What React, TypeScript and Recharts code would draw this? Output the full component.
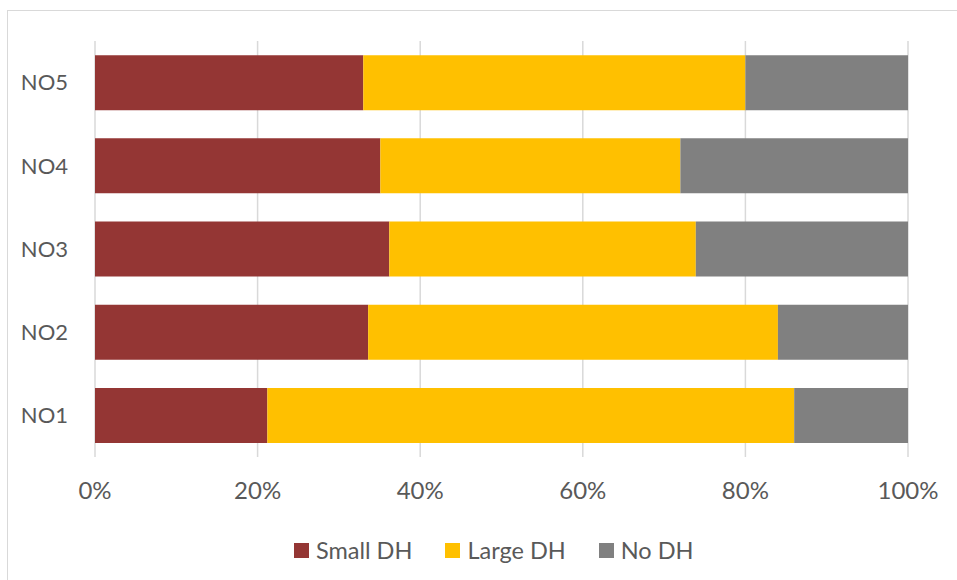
import React from "react";
import {
  BarChart,
  Bar,
  XAxis,
  YAxis,
  CartesianGrid,
  Legend,
} from "recharts";

// ---------------------------------------------------------------------------
// Data (percent of each region)
// ---------------------------------------------------------------------------

const regions = ["NO1", "NO2", "NO3", "NO4", "NO5"];
const smallDH = [21.2, 33.6, 36.2, 35.1, 33.0];
const largeDH = [64.8, 50.4, 37.7, 36.9, 47.0];
const noDH = [14.0, 16.0, 26.1, 28.0, 20.0];
const xTicks = [0, 20, 40, 60, 80, 100];

const series = [
  { key: "small", name: "Small DH", color: "#943634" },
  { key: "large", name: "Large DH", color: "#FFC000" },
  { key: "none", name: "No DH", color: "#808080" },
];

const chartData = regions.map((r, i) => ({
  region: r,
  small: smallDH[i],
  large: largeDH[i],
  none: noDH[i],
}));

const font = "Lato, 'Open Sans', sans-serif";
const textColor = "#595959";

function LegendContent() {
  return (
    <div
      style={{
        display: "flex",
        alignItems: "center",
        paddingLeft: 294,
        height: 40,
        fontFamily: font,
        fontSize: 23.5,
        color: textColor,
      }}
    >
      {series.map((s) => (
        <div
          key={s.key}
          style={{ display: "flex", alignItems: "center", marginRight: 33 }}
        >
          <span
            style={{
              width: 15,
              height: 15,
              background: s.color,
              marginRight: 7,
              display: "inline-block",
            }}
          />
          <span>{s.name}</span>
        </div>
      ))}
    </div>
  );
}

export default function App() {
  return (
    <div
      style={{
        position: "relative",
        width: 957,
        height: 580,
        overflow: "hidden",
        background: "#fff",
      }}
    >
      <style>{`body{margin:0}`}</style>
      <div
        style={{
          position: "absolute",
          left: 7,
          top: 10,
          width: 2000,
          height: 2000,
          borderLeft: "1.5px solid #d9d9d9",
          borderTop: "1.5px solid #d9d9d9",
        }}
      />
      <div style={{ position: "absolute", left: 0, top: 0 }}>
        <BarChart
          width={957}
          height={580}
          data={chartData}
          layout="vertical"
          barCategoryGap="17%"
          margin={{ top: 41, right: 49, left: 0, bottom: 10 }}
        >
          <CartesianGrid
            horizontal={false}
            stroke="#d9d9d9"
            strokeWidth={1.5}
          />
          <XAxis
            type="number"
            domain={[0, 100]}
            ticks={xTicks}
            tickFormatter={(v: number) => `${v}%`}
            tick={{ fontSize: 24, fill: textColor, fontFamily: font }}
            tickLine={false}
            axisLine={false}
            tickSize={0}
            tickMargin={25}
            height={73}
            interval={0}
          />
          <YAxis
            type="category"
            dataKey="region"
            reversed
            tick={{ fontSize: 22, fill: textColor, fontFamily: font }}
            tickLine={false}
            axisLine={false}
            tickSize={0}
            tickMargin={27}
            width={95}
          />
          <Legend
            verticalAlign="bottom"
            height={40}
            wrapperStyle={{ left: 0, width: 957 }}
            content={<LegendContent />}
          />
          {series.map((s) => (
            <Bar
              key={s.key}
              dataKey={s.key}
              name={s.name}
              stackId="a"
              fill={s.color}
              isAnimationActive={false}
            />
          ))}
        </BarChart>
      </div>
    </div>
  );
}
